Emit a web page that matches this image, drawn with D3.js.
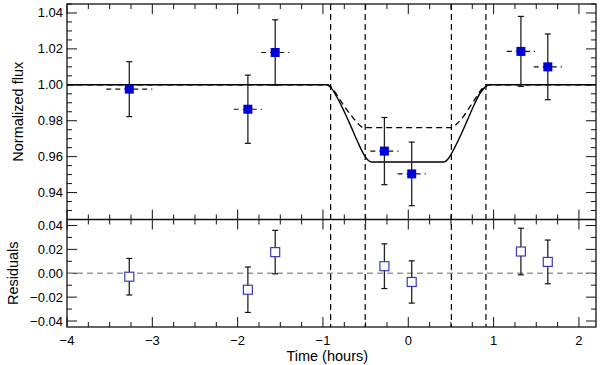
<!DOCTYPE html>
<html>
<head>
<meta charset="utf-8">
<script src="https://cdn.jsdelivr.net/npm/d3@7"></script>
<style>
  body { margin: 0; background: #fff; }
  svg text { font-family: "Liberation Sans", Arial, Helvetica, sans-serif; fill: #000; }
</style>
</head>
<body>
<svg id="chart" width="600" height="365"></svg>
<script>
// observations (time in hours)
const times = [-3.27, -1.88, -1.56, -0.28, 0.04, 1.32, 1.635];
const timeErr = [0.27, 0.165, 0.165, 0.165, 0.165, 0.165, 0.165];
const flux = [0.9976, 0.9864, 1.018, 0.9631, 0.9504, 1.0186, 1.010];
const fluxErr = [0.0153, 0.019, 0.0182, 0.0187, 0.0177, 0.0195, 0.0183];
const residuals = [-0.0029, -0.0138, 0.0177, 0.0059, -0.0073, 0.0182, 0.0095];

// model curves
const solidModelT = [-4.0, -0.965, -0.90, -0.84, -0.76, -0.68, -0.60, -0.53, -0.47, -0.43,
                     0.41, 0.47, 0.529, 0.607, 0.685, 0.763, 0.841, 0.90, 0.95, 2.2];
const solidModelF = [1.0, 1.0, 0.998, 0.9935, 0.986, 0.9777, 0.969, 0.962, 0.958, 0.957,
                     0.957, 0.959, 0.9637, 0.9712, 0.9795, 0.9879, 0.9953, 0.9987, 1.0, 1.0];
const dashModelT = [-4.0, -0.937, -0.878, -0.80, -0.72, -0.643, -0.585, -0.527,
                    0.51, 0.567, 0.645, 0.724, 0.802, 0.86, 0.919, 2.2];
const dashModelF = [1.0, 1.0, 0.9972, 0.9916, 0.986, 0.9814, 0.9782, 0.9762,
                    0.9762, 0.9782, 0.9823, 0.9879, 0.9935, 0.9976, 1.0, 1.0];

// contact times
const contacts = [-0.91, -0.505, 0.505, 0.91];

const xTicks = [-4, -3, -2, -1, 0, 1, 2];
const fluxTicks = [0.94, 0.96, 0.98, 1.00, 1.02, 1.04];
const residTicks = [-0.04, -0.02, 0.00, 0.02, 0.04];

const margin = {left: 67, right: 4, top: 4};
const W = 600, H = 365;
const plotRight = W - margin.right;
const topBottom = 219.5;
const botBottom = 327;

const svg = d3.select("#chart");

const x = d3.scaleLinear().domain([-4, 2.2]).range([margin.left, plotRight]);
const yTop = d3.scaleLinear().domain([0.925, 1.045]).range([topBottom, margin.top]);
const yBot = d3.scaleLinear().domain([-0.045, 0.045]).range([botBottom, topBottom]);

const fmtMinus = s => s.replace("-", "\u2212");

// axes: ticks inward on all four sides
function drawPanel(y, yMajor, yMinorStep, yFmt, yTop0, yBottom0, showX) {
  const g = svg.append("g");
  const minorX = d3.range(-4, 2.21, 0.25);
  const [y0, y1] = y.domain();
  const minorY = d3.range(Math.ceil(y0 / yMinorStep) * yMinorStep, y1 + 1e-9, yMinorStep);

  // bottom & top x ticks
  [yBottom0, yTop0].forEach((yy, i) => {
    const dir = i === 0 ? -1 : 1;
    g.selectAll(null).data(minorX).join("line")
      .attr("x1", d => x(d)).attr("x2", d => x(d))
      .attr("y1", yy).attr("y2", d => yy + dir * (Math.abs(d - Math.round(d)) < 1e-6 ? 10 : 5))
      .attr("stroke", "#111").attr("stroke-width", 1);
  });
  // left & right y ticks
  [margin.left, plotRight].forEach((xx, i) => {
    const dir = i === 0 ? 1 : -1;
    g.selectAll(null).data(minorY).join("line")
      .attr("y1", d => y(d)).attr("y2", d => y(d))
      .attr("x1", xx).attr("x2", d => {
        const isMajor = yMajor.some(t => Math.abs(t - d) < 1e-7);
        return xx + dir * (isMajor ? 10 : 5);
      })
      .attr("stroke", "#111").attr("stroke-width", 1);
  });

  g.selectAll(null).data(yMajor).join("text")
    .attr("x", margin.left - 4).attr("y", d => y(d) + 4.5)
    .attr("text-anchor", "end").style("font-size", "13px")
    .text(d => fmtMinus(yFmt(d)));

  if (showX) {
    g.selectAll(null).data(xTicks).join("text")
      .attr("x", d => x(d)).attr("y", yBottom0 + 18)
      .attr("text-anchor", "middle").style("font-size", "13px")
      .text(d => fmtMinus(d3.format("d")(d)));
  }
}

drawPanel(yTop, fluxTicks, 0.005, d3.format(".2f"), margin.top, topBottom, false);
drawPanel(yBot, residTicks, 0.01, d3.format(".2f"), topBottom, botBottom, true);

// contact lines across both panels
svg.append("g").selectAll("line").data(contacts).join("line")
  .attr("x1", d => x(d)).attr("x2", d => x(d))
  .attr("y1", margin.top).attr("y2", botBottom)
  .attr("stroke", "#000").attr("stroke-width", 1.2)
  .attr("stroke-dasharray", "6,4");

// residual zero line
svg.append("line")
  .attr("x1", margin.left).attr("x2", plotRight)
  .attr("y1", yBot(0)).attr("y2", yBot(0))
  .attr("stroke", "#999").attr("stroke-width", 1.3)
  .attr("stroke-dasharray", "6,4");

// model curves
const solidPts = solidModelT.map((t, i) => [t, solidModelF[i]]);
const dashPts = dashModelT.map((t, i) => [t, dashModelF[i]]);
const line = d3.line().x(d => x(d[0])).y(d => yTop(d[1])).curve(d3.curveMonotoneX);

svg.append("path").datum(dashPts).attr("d", line)
  .attr("fill", "none").attr("stroke", "#000").attr("stroke-width", 1.3)
  .attr("stroke-dasharray", "6,4");
svg.append("path").datum(solidPts).attr("d", line)
  .attr("fill", "none").attr("stroke", "#000").attr("stroke-width", 1.4);

// error bars top panel
const obs = times.map((t, i) => ({t, te: timeErr[i], f: flux[i], fe: fluxErr[i], r: residuals[i]}));
const capW = 3;
const eb = svg.append("g");
eb.selectAll(".xerr").data(obs).join("line")
  .attr("x1", d => x(d.t - d.te)).attr("x2", d => x(d.t + d.te))
  .attr("y1", d => yTop(d.f)).attr("y2", d => yTop(d.f))
  .attr("stroke", "#111").attr("stroke-width", 1.2)
  .attr("stroke-dasharray", "5,4");
eb.selectAll(".yerr").data(obs).join("line")
  .attr("x1", d => x(d.t)).attr("x2", d => x(d.t))
  .attr("y1", d => yTop(d.f - d.fe)).attr("y2", d => yTop(d.f + d.fe))
  .attr("stroke", "#222").attr("stroke-width", 1.3);
[-1, 1].forEach(s => {
  eb.selectAll(null).data(obs).join("line")
    .attr("x1", d => x(d.t) - capW).attr("x2", d => x(d.t) + capW)
    .attr("y1", d => yTop(d.f + s * d.fe)).attr("y2", d => yTop(d.f + s * d.fe))
    .attr("stroke", "#111").attr("stroke-width", 1.2);
});
svg.append("g").selectAll("rect").data(obs).join("rect")
  .attr("x", d => x(d.t) - 4.5).attr("y", d => yTop(d.f) - 4.5)
  .attr("width", 9).attr("height", 9)
  .attr("fill", "#0000d8");

// residuals
const rb = svg.append("g");
rb.selectAll(".yerr").data(obs).join("line")
  .attr("x1", d => x(d.t)).attr("x2", d => x(d.t))
  .attr("y1", d => yBot(d.r - d.fe)).attr("y2", d => yBot(d.r + d.fe))
  .attr("stroke", "#222").attr("stroke-width", 1.3);
[-1, 1].forEach(s => {
  rb.selectAll(null).data(obs).join("line")
    .attr("x1", d => x(d.t) - capW).attr("x2", d => x(d.t) + capW)
    .attr("y1", d => yBot(d.r + s * d.fe)).attr("y2", d => yBot(d.r + s * d.fe))
    .attr("stroke", "#111").attr("stroke-width", 1.2);
});
rb.selectAll("rect").data(obs).join("rect")
  .attr("x", d => x(d.t) - 4.5).attr("y", d => yBot(d.r) - 4.5)
  .attr("width", 9).attr("height", 9)
  .attr("fill", "#fff").attr("stroke", "#3a3ab8").attr("stroke-width", 1.2);

// frames
svg.append("rect")
  .attr("x", margin.left).attr("y", margin.top)
  .attr("width", plotRight - margin.left).attr("height", botBottom - margin.top)
  .attr("fill", "none").attr("stroke", "#111").attr("stroke-width", 1.3);
svg.append("line")
  .attr("x1", margin.left).attr("x2", plotRight)
  .attr("y1", topBottom).attr("y2", topBottom)
  .attr("stroke", "#111").attr("stroke-width", 1.6);

// axis titles
svg.append("text")
  .attr("transform", `translate(23,${(margin.top + topBottom) / 2}) rotate(-90)`)
  .attr("text-anchor", "middle").style("font-size", "14.5px")
  .text("Normalized flux");
svg.append("text")
  .attr("transform", `translate(18,${(topBottom + botBottom) / 2}) rotate(-90)`)
  .attr("text-anchor", "middle").style("font-size", "14.5px")
  .text("Residuals");
svg.append("text")
  .attr("x", x(-0.95)).attr("y", 361)
  .attr("text-anchor", "middle").style("font-size", "14.5px")
  .text("Time (hours)");
</script>
</body>
</html>
